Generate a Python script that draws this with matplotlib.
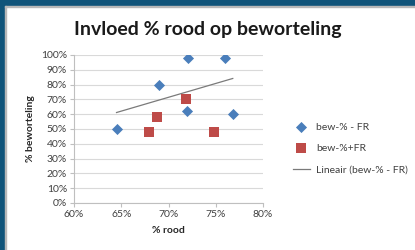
import numpy as np
import matplotlib.pyplot as plt
from matplotlib.patches import Rectangle
from matplotlib.ticker import PercentFormatter, MultipleLocator

# data (percent)
rood_min = [64.5, 69.0, 72.1, 72.0, 76.0, 76.8]
bew_min = [50, 80, 98, 62, 98, 60]
rood_plus = [67.9, 68.8, 71.9, 74.8]
bew_plus = [48, 58, 70, 48]

plt.rcParams['font.family'] = ['Lato', 'DejaVu Sans']

fig = plt.figure(figsize=(4.15, 2.5), dpi=100)
W, H = 415, 250

# dark blue frame on top and left, as in the screenshot
blue = '#10547a'
fig.patches.append(Rectangle((0, 1 - 6 / H), 1, 6 / H, transform=fig.transFigure, color=blue, zorder=0))
fig.patches.append(Rectangle((0, 0), 5 / W, 1, transform=fig.transFigure, color=blue, zorder=0))
fig.patches.append(Rectangle((5 / W, 0), 1.2 / W, 1 - 6 / H, transform=fig.transFigure, color='#b8b8b8', zorder=0))
fig.patches.append(Rectangle((5 / W, 1 - 7.2 / H), 1, 1.2 / H, transform=fig.transFigure, color='#b8b8b8', zorder=0))

ax = fig.add_axes([74 / W, 1 - 203 / H, 189 / W, 148 / H])

ax.scatter(rood_min, bew_min, marker='D', s=32, color='#4a7ebb', zorder=3, label='bew-% - FR', linewidths=0)
ax.scatter(rood_plus, bew_plus, marker='s', s=42, color='#be4b48', zorder=3, label='bew-%+FR', linewidths=0)

# linear trendline of the "- FR" series
k, b = np.polyfit(rood_min, bew_min, 1)
xs = np.array([min(rood_min), max(rood_min)])
ax.plot(xs, k * xs + b, color='#7a7a7a', lw=0.9, zorder=2, label='Lineair (bew-% - FR)')

ax.set_xlim(60, 80)
ax.set_ylim(0, 100)
ax.xaxis.set_major_locator(MultipleLocator(5))
ax.yaxis.set_major_locator(MultipleLocator(10))
ax.xaxis.set_major_formatter(PercentFormatter(decimals=0))
ax.yaxis.set_major_formatter(PercentFormatter(decimals=0))
ax.grid(axis='y', color='#d9d9d9', lw=0.8)
ax.set_axisbelow(True)
for s in ['top', 'right']:
    ax.spines[s].set_visible(False)
for s in ['left', 'bottom']:
    ax.spines[s].set_color('#bfbfbf')
    ax.spines[s].set_linewidth(0.8)
ax.tick_params(colors='#bfbfbf', labelcolor='#404040', labelsize=7.5, length=3, width=0.8, pad=2)

ax.set_xlabel('% rood', fontsize=7.5, fontweight='bold', color='#262626', labelpad=5)
ax.set_ylabel('% beworteling', fontsize=7.5, fontweight='bold', color='#262626', labelpad=4)

fig.text(0.5, 1 - 30 / H, 'Invloed % rood op beworteling', ha='center', va='center',
         fontsize=14, fontweight='bold', color='#1a1a1a')

leg = ax.legend(loc='center left', bbox_to_anchor=(1.11, 0.37), frameon=False, fontsize=7.5,
                handlelength=1.6, handletextpad=0.6, labelspacing=1.15, labelcolor='#404040',
                scatterpoints=1)

fig.savefig('out.png', dpi=100)
